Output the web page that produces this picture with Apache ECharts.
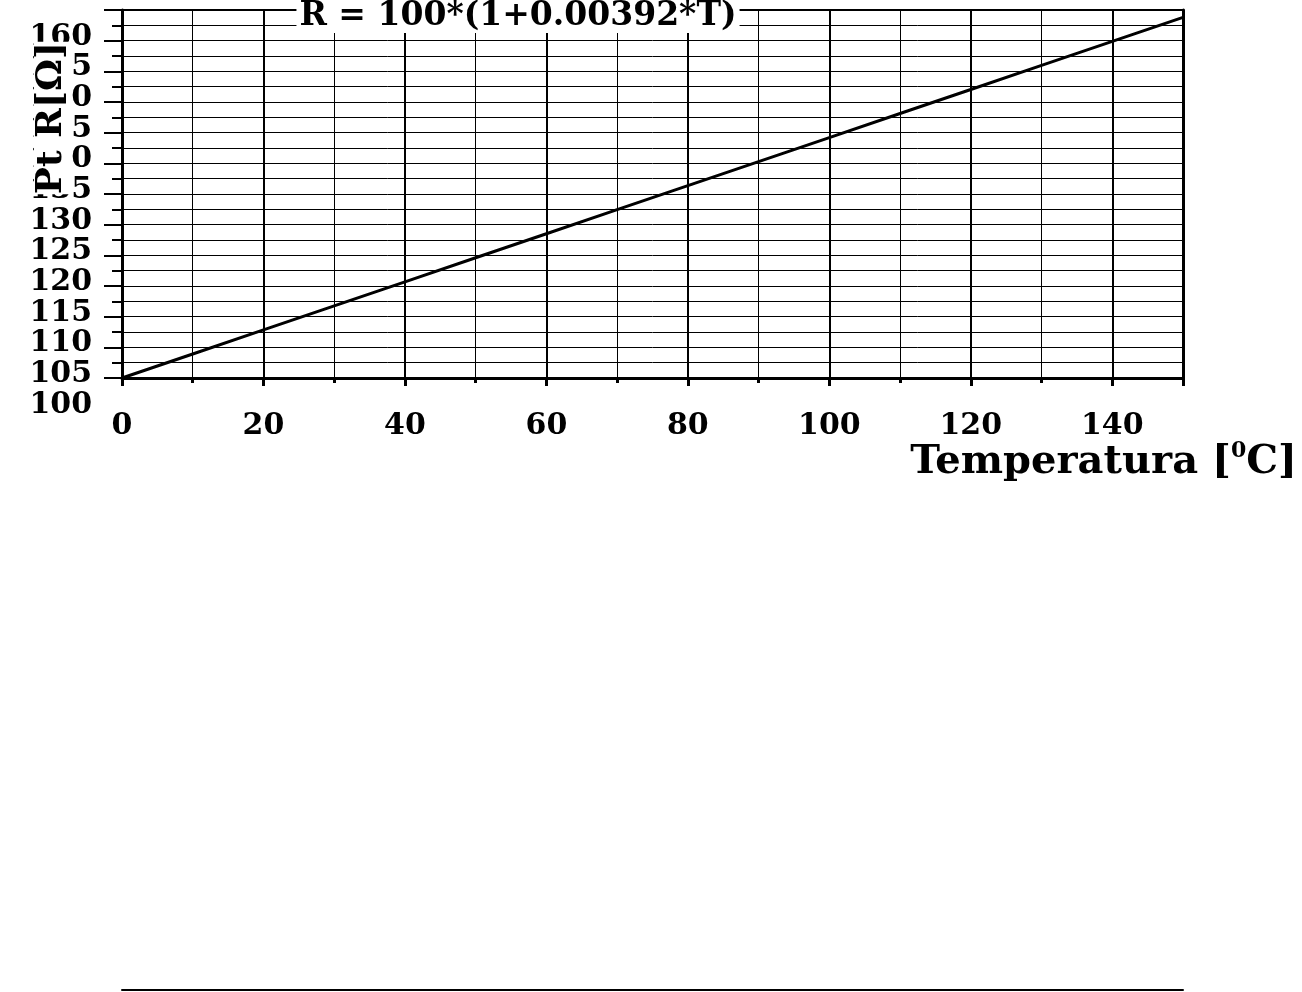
<!DOCTYPE html>
<html>
<head>
<meta charset="utf-8">
<script src="https://cdn.jsdelivr.net/npm/echarts@6/dist/echarts.min.js"></script>
<style>
html,body{margin:0;padding:0;background:#fff;}
#chart{width:1302px;height:992px;}
</style>
</head>
<body>
<div id="chart"></div>
<script>
// Data
const temperatures = [0, 10, 20, 30, 40, 50, 60, 70, 80, 90, 100, 110, 120, 130, 140, 150];
const resistances = [100, 103.92, 107.84, 111.76, 115.68, 119.6, 123.52, 127.44, 131.36, 135.28, 139.2, 143.12, 147.04, 150.96, 154.88, 158.8];
const yRange = [100, 160];
const xRange = [0, 150];
const titleText = 'R = 100*(1+0.00392*T)';
const xAxisName = 'Temperatura [{sup|0}C]';
const yAxisName = '{a|Pt R[Ω]}';

const FONT = 'DejaVu Serif';
const chart = echarts.init(document.getElementById('chart'), null, {renderer: 'canvas'});

const seriesData = temperatures.map((t, i) => [t, resistances[i]]);

const labelStyle = {
  fontFamily: FONT, fontWeight: 'bold', fontSize: 30, color: '#000',
  margin: 30, verticalAlign: 'top', lineHeight: 54, hideOverlap: false
};

chart.setOption({
  backgroundColor: '#fff',
  animation: false,
  title: {
    text: titleText,
    left: 515,
    textAlign: 'center',
    top: 4,
    padding: [0, 3],
    backgroundColor: '#fff',
    textStyle: {fontFamily: FONT, fontWeight: 'bold', fontSize: 33, color: '#000', lineHeight: 25}
  },
  grid: [
    {left: 122, right: 119, top: 10, bottom: 614, containLabel: false, outerBoundsMode: 'none', show: true, borderColor: '#000', borderWidth: 2, backgroundColor: 'transparent'},
    {left: 122, right: 119, top: 989, bottom: 2, containLabel: false, outerBoundsMode: 'none', show: false}
  ],
  xAxis: [
    {
      type: 'value', gridIndex: 0, min: xRange[0], max: xRange[1], interval: 20,
      name: xAxisName, nameLocation: 'end', nameGap: 114, nameMoveOverlap: false,
      nameTextStyle: {
        fontFamily: FONT, fontWeight: 'bold', fontSize: 40, color: '#000',
        align: 'right', verticalAlign: 'top', padding: [62, 0, 0, 0], lineHeight: 46,
        rich: {sup: {fontFamily: FONT, fontWeight: 'bold', fontSize: 22, color: '#000', verticalAlign: 'top', lineHeight: 22, padding: [0, 0, 22, 0]}}
      },
      axisLine: {show: true, onZero: false, lineStyle: {color: '#000', width: 3}},
      axisTick: {show: true, inside: false, length: 8, lineStyle: {color: '#000', width: 3}},
      minorTick: {show: true, splitNumber: 2, length: 5, lineStyle: {color: '#000', width: 3}},
      splitLine: {show: true, lineStyle: {color: '#000', width: 2}},
      minorSplitLine: {show: true, lineStyle: {color: '#000', width: 1}},
      axisLabel: {show: true, showMinLabel: true, showMaxLabel: false, hideOverlap: false, margin: 33, fontFamily: FONT, fontWeight: 'bold', fontSize: 30, color: '#000'}
    },
    {
      type: 'value', gridIndex: 1, min: xRange[0], max: xRange[1], position: 'bottom',
      axisLine: {show: true, onZero: false, lineStyle: {color: '#000', width: 2}},
      axisTick: {show: false}, axisLabel: {show: false}, splitLine: {show: false}
    }
  ],
  yAxis: [
    {
      // main axis: line, ticks, grid lines and name
      type: 'value', gridIndex: 0, min: yRange[0], max: yRange[1], interval: 5, z: 1,
      name: yAxisName, nameLocation: 'middle', nameGap: 70, nameRotate: 90, nameMoveOverlap: false,
      nameTextStyle: {
        align: 'center', verticalAlign: 'middle', padding: [0, 0, 0, 152],
        rich: {a: {fontFamily: FONT, fontWeight: 'bold', fontSize: 36, color: '#000', backgroundColor: '#fff', lineHeight: 38}}
      },
      axisLine: {show: true, onZero: false, lineStyle: {color: '#000', width: 3}},
      axisTick: {show: true, inside: false, length: 18, lineStyle: {color: '#000', width: 2}},
      minorTick: {show: true, splitNumber: 2, length: 10, lineStyle: {color: '#000', width: 2}},
      splitLine: {show: true, lineStyle: {color: '#000', width: 1}},
      minorSplitLine: {show: true, lineStyle: {color: '#000', width: 1}},
      axisLabel: {show: false}
    },
    {
      // right frame
      type: 'value', gridIndex: 0, min: yRange[0], max: yRange[1], interval: 5, position: 'right',
      axisLine: {show: true, onZero: false, lineStyle: {color: '#000', width: 3}},
      axisTick: {show: false}, axisLabel: {show: false}, splitLine: {show: false}
    },
    {
      type: 'value', gridIndex: 1, min: 0, max: 1, show: false
    },
    {
      // inner tick labels (105 … 155)
      type: 'value', gridIndex: 0, min: yRange[0], max: yRange[1], interval: 5, position: 'left', offset: 0,
      axisLine: {show: false}, axisTick: {show: false}, splitLine: {show: false},
      axisLabel: Object.assign({show: true, showMinLabel: false, showMaxLabel: false}, labelStyle)
    },
    {
      // end tick labels (100 and 160)
      type: 'value', gridIndex: 0, min: yRange[0], max: yRange[1], interval: 5, position: 'left', offset: 0,
      axisLine: {show: false}, axisTick: {show: false}, splitLine: {show: false},
      axisLabel: Object.assign({
        show: true, showMinLabel: true, showMaxLabel: true,
        formatter: v => (v === yRange[0] || v === yRange[1]) ? String(v) : ''
      }, labelStyle)
    }
  ],
  series: [
    {
      type: 'line', xAxisIndex: 0, yAxisIndex: 0,
      data: seriesData, showSymbol: false, symbol: 'none',
      lineStyle: {color: '#000', width: 3}, z: 5
    }
  ]
});
</script>
</body>
</html>
